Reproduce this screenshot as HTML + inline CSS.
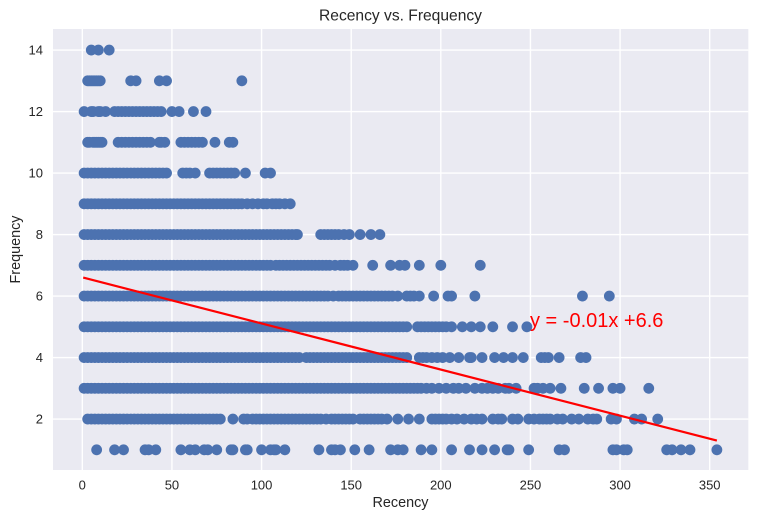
<!DOCTYPE html>
<html lang="en">
<head>
<meta charset="utf-8">
<title>Recency vs. Frequency</title>
<style>
html,body{margin:0;padding:0;background:#fff;}
svg{display:block;font-family:"Liberation Sans",Arial,sans-serif;}
</style>
</head>
<body>
<svg id="chart" width="758" height="520" viewBox="0 0 758 520" xmlns="http://www.w3.org/2000/svg">
  <rect x="53" y="29" width="695.3" height="441" fill="#eaeaf2"/>
  <g id="grid"></g>
  <g id="points"></g>
  <g id="fit"></g>
  <g id="ticks"></g>
  <text x="400.5" y="20.5" font-size="15.6" fill="#262626" text-anchor="middle">Recency vs. Frequency</text>
  <text x="400.5" y="507" font-size="14.4" fill="#262626" text-anchor="middle">Recency</text>
  <text transform="translate(20,249.5) rotate(-90)" font-size="14.4" fill="#262626" text-anchor="middle">Frequency</text>
  <text x="530" y="327" font-size="20" fill="#ff0000">y = -0.01x +6.6</text>
</svg>
<script>
const xTicks = [0, 50, 100, 150, 200, 250, 300, 350];
const yTicks = [2, 4, 6, 8, 10, 12, 14];
const fitX = [0.5, 354];
const fitY = [6.6, 1.3];
const recency14 = [5, 9, 15];
const recency13 = [3, 4, 5, 6, 7, 8, 9, 10, 27, 30, 43, 47, 89];
const recency12 = [1, 5, 6, 9, 10, 13, 18, 20, 22, 24, 26, 28, 30, 32, 34, 36, 38, 40, 42, 44, 50, 54, 62, 69];
const recency11 = [3, 4, 6, 7, 8, 9, 10, 11, 20, 22, 24, 26, 28, 30, 32, 34, 36, 38, 43, 44, 46, 55, 57, 59, 61, 63, 65, 67, 74, 82, 84];
const recency10 = [1, 3, 5, 7, 9, 11, 13, 15, 17, 19, 21, 23, 25, 27, 29, 31, 33, 35, 37, 39, 41, 43, 45, 47, 56, 58, 60, 63, 71, 73, 75, 77, 79, 81, 83, 85, 91, 102, 105];
const recency9 = [1, 3, 5, 7, 9, 11, 13, 15, 17, 19, 21, 23, 25, 27, 29, 31, 33, 35, 37, 39, 41, 43, 45, 47, 49, 51, 53, 55, 57, 59, 61, 63, 65, 67, 69, 71, 73, 75, 77, 79, 81, 83, 85, 87, 89, 92, 95, 98, 101, 103, 106, 108, 110, 113, 116];
const recency8 = [1, 3, 5, 7, 9, 11, 13, 15, 17, 19, 21, 23, 25, 27, 29, 31, 33, 35, 37, 39, 41, 43, 45, 47, 49, 51, 53, 55, 57, 59, 61, 63, 65, 67, 69, 71, 73, 75, 77, 79, 81, 83, 85, 87, 89, 91, 93, 95, 97, 99, 101, 103, 105, 107, 109, 111, 113, 115, 117, 119, 120, 133, 135, 137, 139, 141, 143, 146, 149, 155, 161, 166];
const recency7 = [1, 3, 5, 7, 9, 11, 13, 15, 17, 19, 21, 23, 25, 27, 29, 31, 33, 35, 37, 39, 41, 43, 45, 47, 49, 51, 53, 55, 57, 59, 61, 63, 65, 67, 69, 71, 73, 75, 77, 79, 81, 83, 85, 87, 89, 91, 93, 95, 97, 99, 101, 103, 105, 108, 110, 112, 114, 116, 118, 120, 122, 124, 126, 128, 130, 132, 134, 136, 138, 141, 144, 146, 148, 151, 162, 172, 177, 180, 188, 200, 222];
const recency6 = [1, 3, 5, 7, 9, 11, 13, 15, 17, 19, 21, 23, 25, 27, 29, 31, 33, 35, 37, 39, 41, 43, 45, 47, 49, 51, 53, 55, 57, 59, 61, 63, 65, 67, 69, 71, 73, 75, 77, 79, 81, 83, 85, 87, 89, 91, 93, 95, 97, 99, 101, 103, 105, 107, 109, 111, 113, 115, 117, 119, 121, 123, 125, 127, 129, 131, 133, 135, 137, 140, 143, 145, 147, 149, 151, 153, 155, 157, 159, 161, 163, 165, 167, 169, 171, 173, 176, 181, 183, 185, 188, 196, 204, 206, 219, 279, 294];
const recency5 = [1, 3, 5, 7, 9, 11, 13, 15, 17, 19, 21, 23, 25, 27, 29, 31, 33, 35, 37, 39, 41, 43, 45, 47, 49, 51, 53, 55, 57, 59, 61, 63, 65, 67, 69, 71, 73, 75, 77, 79, 81, 83, 85, 87, 89, 91, 93, 95, 97, 99, 101, 103, 105, 107, 109, 111, 113, 115, 117, 119, 121, 123, 125, 127, 129, 131, 133, 135, 137, 139, 141, 143, 145, 147, 149, 151, 153, 155, 157, 159, 161, 163, 165, 167, 169, 171, 173, 175, 177, 179, 181, 187, 189, 191, 193, 195, 197, 199, 201, 203, 206, 212, 217, 222, 229, 240, 248];
const recency4 = [1, 3, 5, 7, 9, 11, 13, 15, 17, 19, 21, 23, 25, 27, 29, 31, 33, 35, 37, 39, 41, 43, 45, 47, 49, 51, 53, 55, 57, 59, 61, 63, 65, 67, 69, 71, 73, 75, 77, 79, 81, 83, 85, 87, 89, 91, 93, 95, 97, 99, 101, 103, 105, 107, 109, 111, 113, 115, 117, 119, 121, 125, 127, 129, 131, 133, 135, 137, 139, 141, 143, 145, 147, 149, 151, 153, 155, 157, 159, 161, 163, 165, 167, 169, 171, 173, 175, 177, 179, 181, 188, 190, 192, 195, 198, 201, 205, 210, 216, 217, 223, 230, 235, 240, 246, 256, 258, 260, 266, 278, 281];
const recency3 = [1, 3, 5, 7, 9, 11, 13, 15, 17, 19, 21, 23, 25, 27, 29, 31, 33, 35, 37, 39, 41, 43, 45, 47, 49, 51, 53, 55, 57, 59, 61, 63, 65, 67, 69, 71, 73, 75, 77, 79, 81, 83, 85, 87, 89, 91, 93, 95, 97, 99, 101, 103, 105, 107, 109, 111, 113, 115, 117, 119, 121, 123, 125, 127, 129, 131, 133, 135, 137, 139, 141, 143, 145, 147, 149, 151, 153, 155, 157, 159, 161, 163, 165, 167, 169, 171, 173, 175, 177, 179, 181, 183, 185, 187, 189, 192, 195, 199, 203, 207, 210, 214, 219, 223, 226, 229, 232, 236, 238, 242, 252, 254, 257, 261, 267, 280, 288, 296, 300, 316];
const recency2 = [3, 5, 7, 9, 11, 13, 15, 17, 19, 21, 23, 25, 27, 29, 31, 33, 35, 37, 39, 41, 43, 45, 47, 49, 51, 53, 55, 57, 59, 61, 63, 65, 67, 69, 71, 73, 75, 77, 84, 90, 92, 95, 97, 99, 101, 103, 105, 107, 109, 111, 113, 115, 117, 119, 121, 123, 125, 127, 129, 131, 133, 136, 139, 141, 143, 145, 147, 149, 151, 155, 157, 159, 161, 163, 165, 167, 170, 176, 182, 188, 195, 197, 199, 201, 203, 206, 209, 213, 217, 220, 223, 229, 232, 234, 240, 243, 249, 252, 255, 257, 259, 261, 265, 268, 273, 277, 282, 285, 287, 295, 298, 308, 312, 321];
const recency1 = [8, 18, 23, 35, 37, 41, 55, 60, 63, 68, 70, 75, 83, 84, 91, 92, 100, 105, 107, 108, 113, 132, 139, 141, 144, 152, 160, 172, 176, 179, 189, 195, 206, 216, 223, 230, 237, 238, 249, 266, 269, 296, 298, 302, 304, 326, 329, 334, 339, 354];

const frequencyRows = [
  [14, recency14], [13, recency13], [12, recency12], [11, recency11], [10, recency10],
  [9, recency9], [8, recency8], [7, recency7], [6, recency6], [5, recency5],
  [4, recency4], [3, recency3], [2, recency2], [1, recency1]
];

const NS = 'http://www.w3.org/2000/svg';
const xScale = v => 82.3 + v * 1.7926;
const yScale = v => 449.8 - (v - 1) * 30.75;
const make = (tag, parent) => {
  const el = document.createElementNS(NS, tag);
  parent.appendChild(el);
  return el;
};

const grid = document.getElementById('grid');
const ticks = document.getElementById('ticks');

xTicks.forEach(t => {
  const line = make('line', grid);
  
  
  line.setAttribute('x1', xScale(t));
  line.setAttribute('x2', xScale(t));
  line.setAttribute('y1', 29);
  line.setAttribute('y2', 470);
  line.setAttribute('stroke', '#ffffff');
  line.setAttribute('stroke-width', '1.4');
  const label = make('text', ticks);
  
  
  label.setAttribute('x', xScale(t));
  label.setAttribute('y', 489.5);
  label.setAttribute('font-size', '13');
  label.setAttribute('fill', '#262626');
  label.setAttribute('text-anchor', 'middle');
  label.textContent = t;
});

yTicks.forEach(t => {
  const line = make('line', grid);
  
  
  line.setAttribute('x1', 53);
  line.setAttribute('x2', 748.3);
  line.setAttribute('y1', yScale(t));
  line.setAttribute('y2', yScale(t));
  line.setAttribute('stroke', '#ffffff');
  line.setAttribute('stroke-width', '1.4');
  const label = make('text', ticks);
  
  
  label.setAttribute('x', 43);
  label.setAttribute('y', yScale(t) + 4.6);
  label.setAttribute('font-size', '13');
  label.setAttribute('fill', '#262626');
  label.setAttribute('text-anchor', 'end');
  label.textContent = t;
});

const points = document.getElementById('points');
frequencyRows.forEach(([frequency, recencies]) => {
  recencies.forEach(recency => {
    const dot = make('circle', points);
    
    
    dot.setAttribute('cx', xScale(recency));
    dot.setAttribute('cy', yScale(frequency));
    dot.setAttribute('r', '5.4');
    dot.setAttribute('fill', '#4c72b0');
  });
});

const fitLine = make('line', document.getElementById('fit'));


fitLine.setAttribute('x1', xScale(fitX[0]));
fitLine.setAttribute('y1', yScale(fitY[0]));
fitLine.setAttribute('x2', xScale(fitX[1]));
fitLine.setAttribute('y2', yScale(fitY[1]));
fitLine.setAttribute('stroke', '#ff0000');
fitLine.setAttribute('stroke-width', '2.2');
</script>
</body>
</html>
